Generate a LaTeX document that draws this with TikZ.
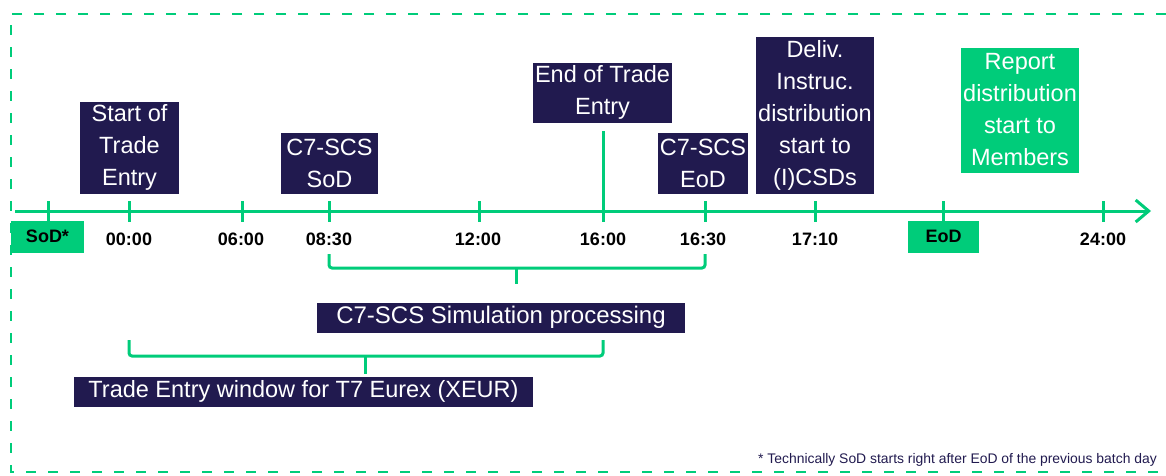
\documentclass[tikz,border=0pt]{standalone}
\usepackage{fontspec}
\setmainfont{Liberation Sans}
\usetikzlibrary{arrows.meta}
\definecolor{navy}{RGB}{33,26,79}
\definecolor{grn}{RGB}{0,204,122}
\begin{document}
\begin{tikzpicture}[x=1pt,y=-1pt,
  navybox/.style={fill=navy,text=white,inner sep=0pt,align=center,font=\fontsize{23.5}{32}\selectfont},
  greenbox/.style={fill=grn,text=white,inner sep=0pt,align=center,font=\fontsize{23.5}{32}\selectfont},
  tagbox/.style={fill=grn,text=black,inner sep=0pt,font=\fontsize{18}{20}\selectfont\bfseries},
  lbl/.style={text=black,inner sep=0pt,font=\fontsize{18}{20}\selectfont\bfseries},
  axisline/.style={draw=grn,line width=3pt},
  tickmark/.style={draw=grn,line width=3pt},
  bracepath/.style={draw=grn,line width=3pt,rounded corners=3pt},
  frame/.style={draw=grn,line width=2pt,dash pattern=on 10pt off 12pt}
]
\useasboundingbox (0,0) rectangle (1166,475);

% dashed frame
\draw[frame] (1166,14) -- (11,14) -- (11,472) -- (1166,472);

% axis
\coordinate (axL) at (15,211);
\coordinate (axR) at (1151,211);
\draw[axisline,-{Straight Barb[length=13pt,width=22pt]}] (axL) -- (axR);

% ticks
\foreach \x in {48,129,242,329,479,705,815,943,1103} {
  \draw[tickmark] (\x,201) -- (\x,222);
}
\coordinate (endTop) at (603,131);
\coordinate (endBot) at (603,222);
\draw[tickmark] (endTop) -- (endBot);

% tag boxes
\node[tagbox,minimum width=73pt,minimum height=32pt] (sod) at (47.5,236.5) {SoD*};
\node[tagbox,minimum width=71pt,minimum height=32pt] (eod) at (943.5,236.5) {EoD};

% time labels
\node[lbl] (l0) at (129,239) {00:00};
\node[lbl] (l6) at (241,239) {06:00};
\node[lbl] (l830) at (329,239) {08:30};
\node[lbl] (l12) at (478,239) {12:00};
\node[lbl] (l16) at (603,239) {16:00};
\node[lbl] (l1630) at (703,239) {16:30};
\node[lbl] (l1710) at (815,239) {17:10};
\node[lbl] (l24) at (1103,239) {24:00};

% event boxes
\node[navybox,minimum width=99pt,minimum height=92pt] (start) at (129.5,147.5) {Start of\\Trade\\Entry};
\node[navybox,minimum width=97pt,minimum height=61pt] (scssod) at (329.5,163) {C7-SCS\\SoD};
\node[navybox,minimum width=139pt,minimum height=60pt] (endte) at (602.5,92.5) {End of Trade\\Entry};
\node[navybox,minimum width=90pt,minimum height=61pt] (scseod) at (703,163) {C7-SCS\\EoD};
\node[navybox,minimum width=118pt,minimum height=157pt] (deliv) at (815,115) {Deliv.\\Instruc.\\distribution\\start to\\(I)CSDs};
\node[greenbox,minimum width=118pt,minimum height=125pt] (report) at (1020,110) {Report\\distribution\\start to\\Members};

% braces
\draw[bracepath] (329,254) -- (329,268) -- (705,268) -- (705,254);
\draw[bracepath] (516,268) -- (516,284);
\draw[bracepath] (129,340) -- (129,356) -- (603,356) -- (603,340);
\draw[bracepath] (365,356) -- (365,374);

% window boxes
\node[navybox,minimum width=368pt,minimum height=30pt,font=\fontsize{24}{28}\selectfont] (sim) at (501,317.5) {C7-SCS Simulation processing};
\node[navybox,minimum width=459pt,minimum height=30pt] (window) at (303.5,391.5) {Trade Entry window for T7 Eurex (XEUR)};

% footnote
\node[anchor=east,inner sep=0pt,text=navy,font=\fontsize{13.9}{16}\selectfont] (note) at (1157,460) {* Technically SoD starts right after EoD of the previous batch day};
\end{tikzpicture}
\end{document}
